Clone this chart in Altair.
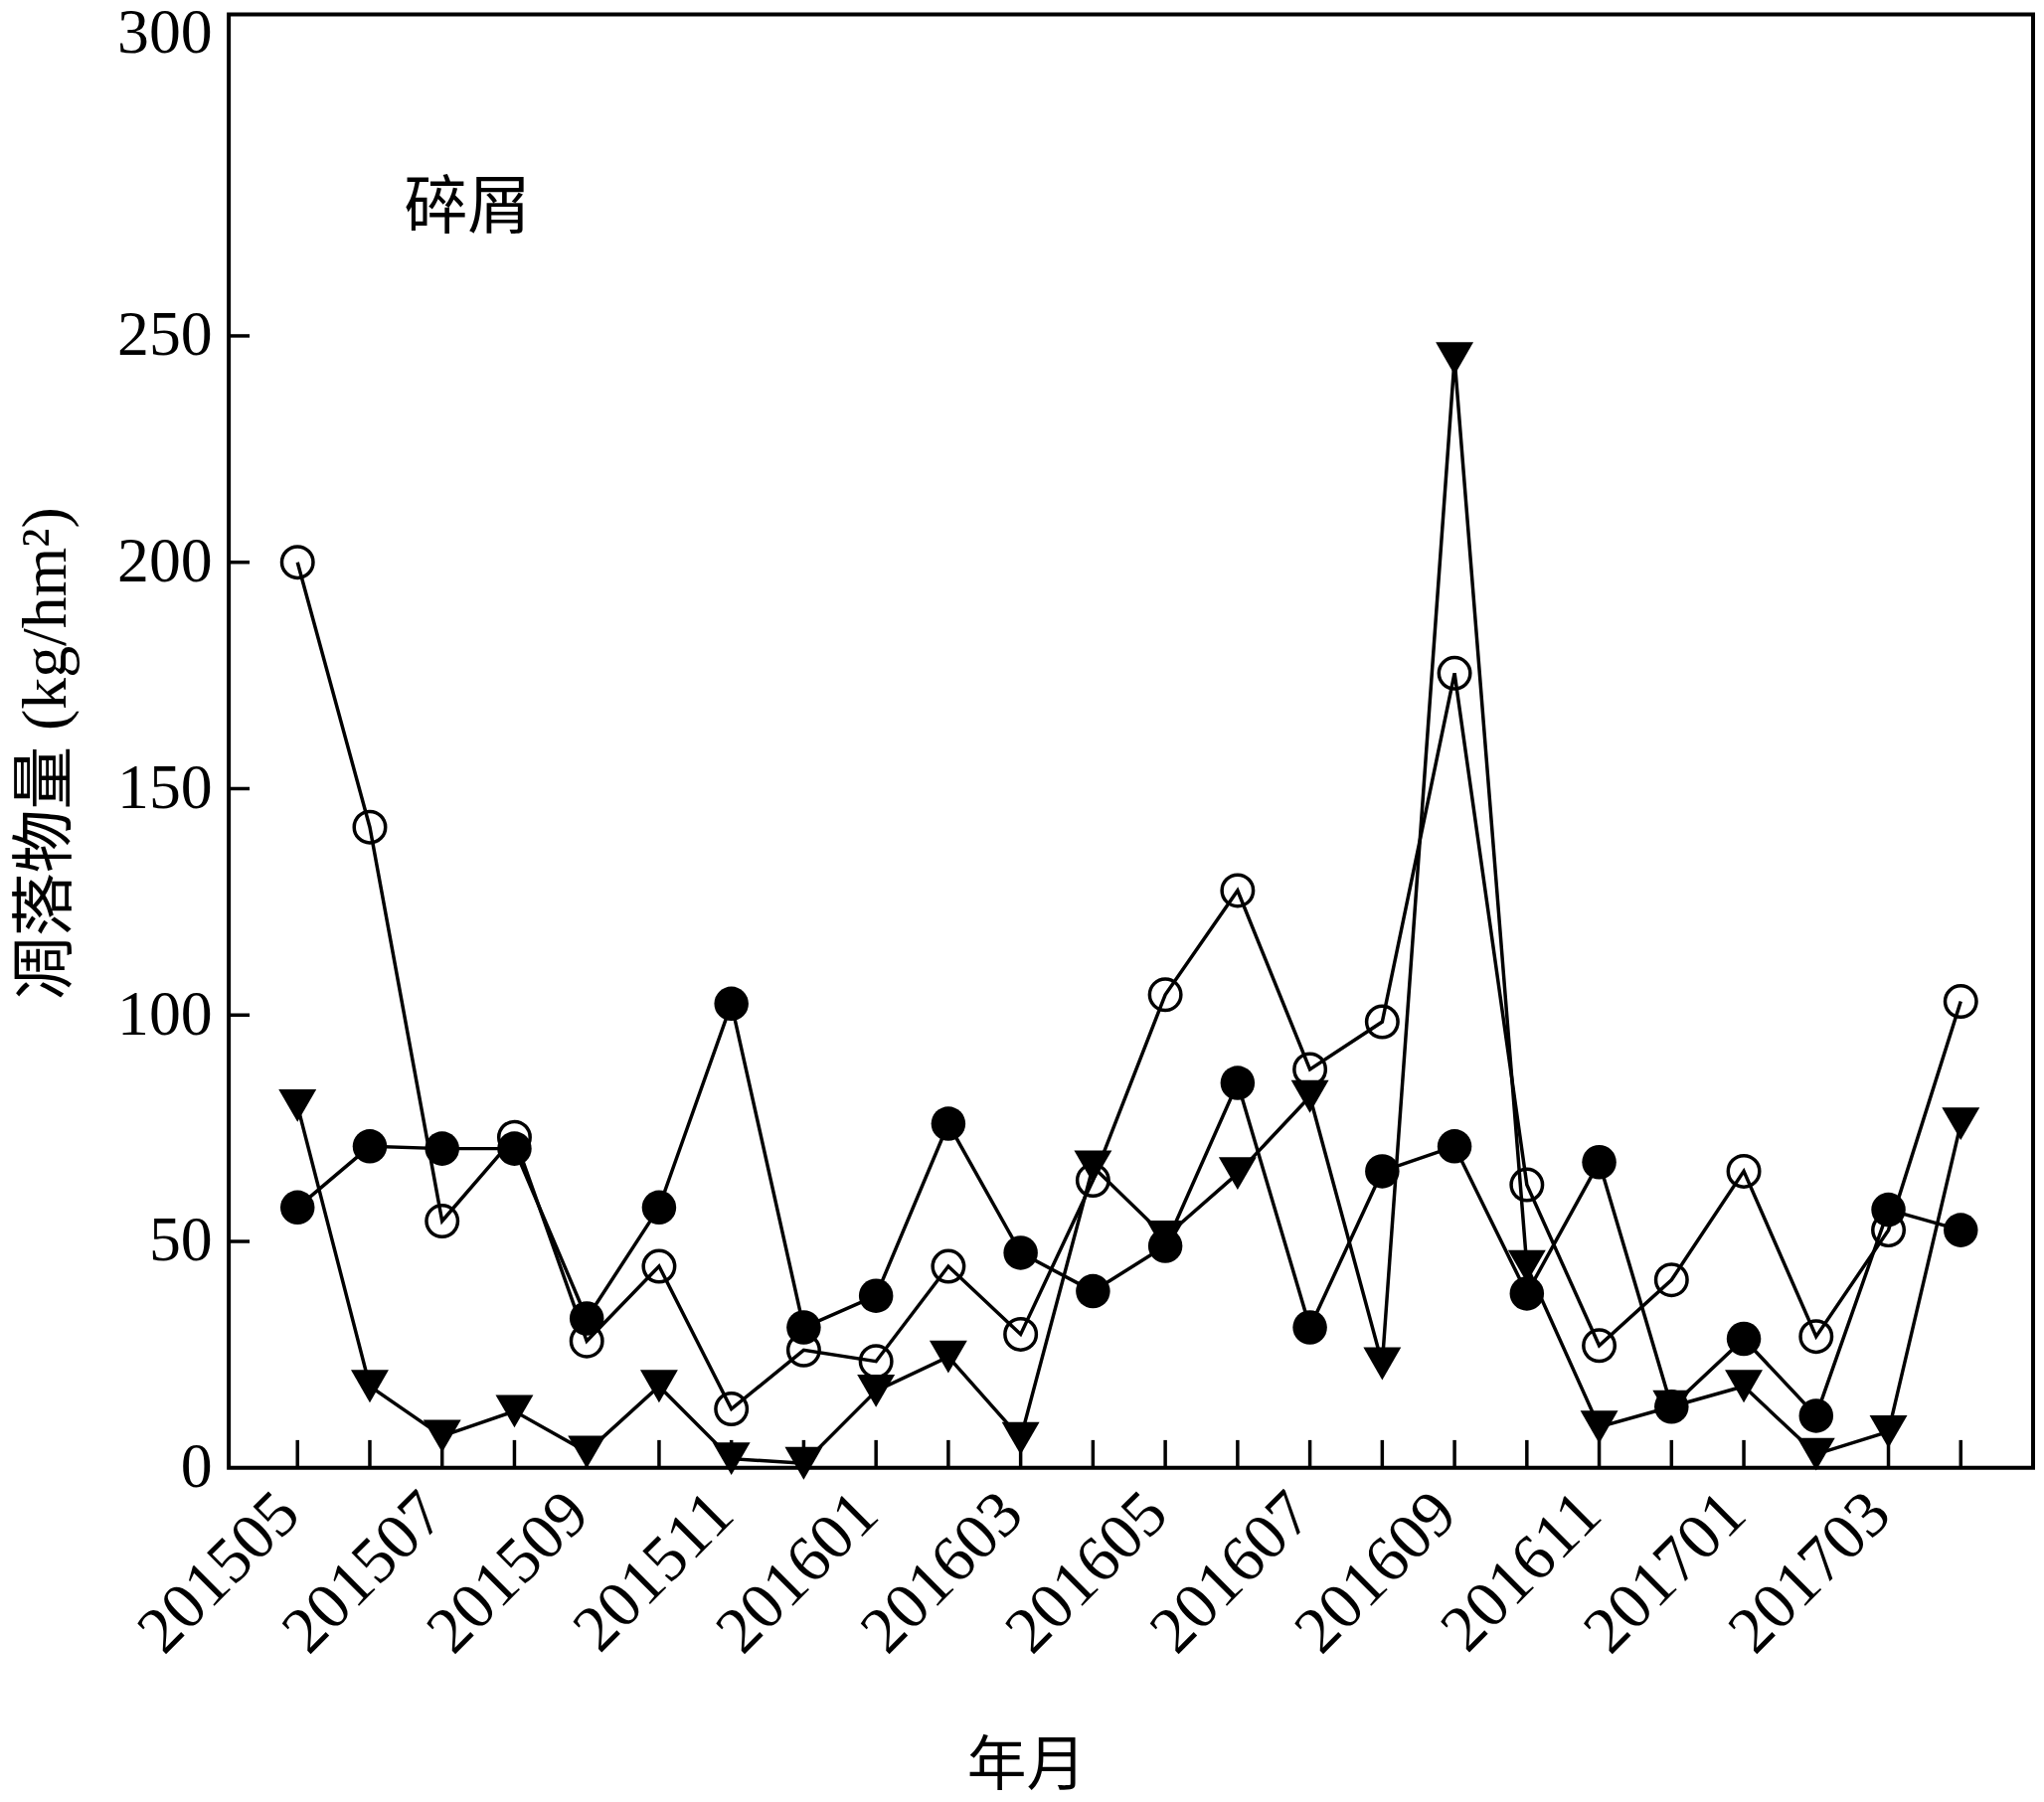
import altair as alt
import pandas as pd

months = ["201505", "201506", "201507", "201508", "201509", "201510", "201511", "201512",
          "201601", "201602", "201603", "201604", "201605", "201606", "201607", "201608",
          "201609", "201610", "201611", "201612", "201701", "201702", "201703", "201704"]

open_vals = [200, 141.5, 54.5, 73, 28, 44.5, 13, 26, 23.5, 44.5, 29.5, 63.5,
             104.5, 127.5, 88, 98.5, 175.5, 62.5, 27, 41.5, 65.5, 29, 52.5, 103]
filled_vals = [57.5, 71, 70.5, 70.5, 33, 57.5, 102.5, 31, 38, 76, 47.5, 39,
               49, 85, 31, 65.5, 71, 38.5, 67.5, 13.5, 28.5, 11.5, 57, 52.5]
tri_vals = [80, 18, 7, 12.5, 3.5, 18, 2, 1, 17, 24.5, 6.5, 66.5,
            51, 65, 82, 23, 245, 44.5, 9, 13.5, 18, 3, 8, 76]

x_tick_labels = months[::2]
y_tick_values = [0, 50, 100, 150, 200, 250]
y_top = 321
y_title = "凋落物量 (kg/hm²)"
x_title = "年月"
panel_label = "碎屑"

FONT = "Liberation Serif, Noto Sans CJK SC"
W, H = 1822, 1468

rows = []
for name, vals in [("open", open_vals), ("filled", filled_vals), ("tri", tri_vals)]:
    for i, (m, v) in enumerate(zip(months, vals)):
        rows.append({"idx": i, "month": m, "value": v, "series": name})
df = pd.DataFrame(rows)

label_arr = "[" + ",".join("'%s'" % s for s in x_tick_labels) + "]"

xscale = alt.Scale(domain=[-0.95, 24], nice=False, zero=False)
yscale = alt.Scale(domain=[0, y_top], nice=False)

xaxis = alt.Axis(
    values=list(range(0, len(months), 2)),
    labelExpr=label_arr + "[datum.value/2]",
    labelAngle=-45, labelFontSize=66, labelFont=FONT, labelColor="black",
    labelPadding=13, labelOffset=-32, labelOverlap=False, labelFlush=False, labelLimit=0,
    ticks=False, domain=False, grid=False,
    title=x_title, titleFont=FONT, titleFontSize=60, titleFontWeight="normal",
    titleColor="black", titleX=805, titleY=302, titleBaseline="middle", titleAlign="center",
)
yaxis = alt.Axis(
    values=y_tick_values + [y_top],
    labelExpr="datum.value > 300 ? '300' : datum.label",
    labelFontSize=64, labelFont=FONT, labelColor="black", labelPadding=17,
    labelOffset={"condition": {"test": "datum.value > 300", "value": 19}, "value": 0},
    labelBaseline="middle", labelFlush=False, labelOverlap=False, labelLimit=0,
    ticks=False, domain=False, grid=False,
    title=y_title, titleFont=FONT, titleFontSize=64, titleFontWeight="normal",
    titleColor="black", titleX=-184, titleY=746, titleAngle=-90,
    titleBaseline="middle", titleAlign="center",
)

X = alt.X("idx:Q", scale=xscale, axis=xaxis)
Y = alt.Y("value:Q", scale=yscale, axis=yaxis)

base = alt.Chart(df)

lines = base.mark_line(color="black", strokeWidth=3.5).encode(x=X, y=Y, detail="series:N")
open_pts = base.transform_filter("datum.series == 'open'").mark_point(
    shape="circle", filled=False, stroke="black", strokeWidth=3.5, size=1000, opacity=1
).encode(x=X, y=Y)
filled_pts = base.transform_filter("datum.series == 'filled'").mark_point(
    shape="circle", filled=True, color="black", size=1200, opacity=1
).encode(x=X, y=Y)
tri_pts = base.transform_filter("datum.series == 'tri'").mark_point(
    shape="triangle-down", filled=True, color="black", size=1450, opacity=1
).encode(x=X, y=Y)

xt = pd.DataFrame({"idx": list(range(len(months)))})
x_ticks = alt.Chart(xt).mark_rule(color="black", strokeWidth=3.5).encode(
    x=X, y=alt.value(H), y2=alt.value(H - 28)
)
yt = pd.DataFrame({"value": y_tick_values[1:]})
y_ticks = alt.Chart(yt).mark_rule(color="black", strokeWidth=3.5).encode(
    y=Y, x=alt.value(0), x2=alt.value(21)
)

ann = pd.DataFrame({"idx": [2.35], "value": [278], "text": [panel_label]})
label = alt.Chart(ann).mark_text(font=FONT, fontSize=64, color="black",
                                 align="center", baseline="middle").encode(
    x=X, y=Y, text="text:N"
)

chart = alt.layer(lines, x_ticks, y_ticks, open_pts, filled_pts, tri_pts, label).properties(
    width=W, height=H,
    autosize=alt.AutoSizeParams(type="none"),
    padding={"left": 223, "top": 3, "right": 3, "bottom": 334},
    background="white",
).configure_view(stroke="black", strokeWidth=4)

chart.save("out.html", embed_options={"renderer": "svg", "actions": False})
